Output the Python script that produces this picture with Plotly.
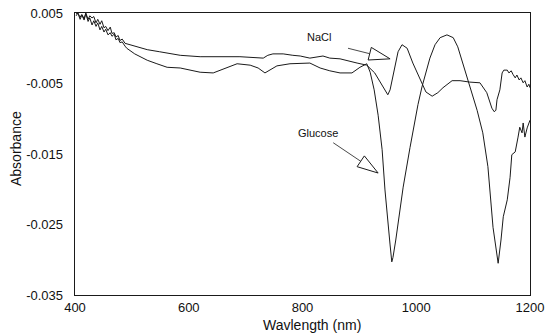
import plotly.graph_objects as go
import math

# ---------------- data ----------------
nacl_nm = [402, 405, 409, 412, 416, 419, 423, 426, 430, 433, 437, 440, 444, 447, 451, 454,
           458, 462, 465, 469, 472, 476, 479, 483, 488, 497, 509, 527, 549, 585, 620, 655,
           690, 731, 739, 748, 766, 783, 796, 813, 831, 836, 848, 866, 896, 913, 927, 942,
           950, 954, 963, 968, 975, 984, 994, 1007, 1017, 1028, 1038, 1047, 1063, 1077, 1094,
           1112, 1124, 1133, 1137, 1140, 1142, 1147, 1151, 1154, 1160, 1163, 1167, 1170, 1174,
           1177, 1181, 1184, 1188, 1191, 1195, 1198, 1200]
nacl_abs = [0.0049, 0.0050, 0.0044, 0.0048, 0.0042, 0.0050, 0.0041, 0.0046, 0.0043, 0.0045,
            0.0036, 0.0041, 0.0034, 0.0039, 0.0029, 0.0031, 0.0025, 0.0030, 0.0021, 0.0022,
            0.0016, 0.0018, 0.0011, 0.0013, 0.0007, 0.0005, 0.0002, -0.0002, -0.0005, -0.0010,
            -0.0012, -0.0012, -0.0012, -0.0014, -0.0010, -0.0008, -0.0008, -0.0010, -0.0011,
            -0.0014, -0.0012, -0.0011, -0.0014, -0.0015, -0.0021, -0.0024, -0.0035, -0.0055,
            -0.0066, -0.0059, -0.0021, -0.0005, 0.0005, 0.0000, -0.0021, -0.0045, -0.0062,
            -0.0068, -0.0063, -0.0056, -0.0046, -0.0046, -0.0048, -0.0049, -0.0063, -0.0085,
            -0.0090, -0.0088, -0.0073, -0.0059, -0.0035, -0.0031, -0.0031, -0.0035, -0.0032,
            -0.0037, -0.0042, -0.0038, -0.0045, -0.0042, -0.0049, -0.0046, -0.0055, -0.0051,
            -0.0056]

glucose_nm = [402, 405, 409, 412, 416, 419, 423, 426, 430, 433, 437, 440, 444, 447, 451, 454,
              458, 462, 465, 469, 472, 476, 479, 483, 488, 491, 505, 527, 544, 562, 585, 620,
              643, 664, 685, 708, 722, 734, 743, 755, 778, 796, 813, 831, 848, 866, 887, 901,
              913, 919, 926, 933, 940, 945, 950, 954, 957, 959, 964, 971, 977, 989, 996, 1003,
              1010, 1024, 1033, 1042, 1054, 1065, 1073, 1080, 1094, 1107, 1117, 1126, 1135,
              1144, 1149, 1153, 1160, 1165, 1168, 1174, 1179, 1182, 1186, 1188, 1191, 1195, 1200]
glucose_abs = [0.0046, 0.0050, 0.0041, 0.0047, 0.0040, 0.0049, 0.0038, 0.0043, 0.0033, 0.0039,
               0.0031, 0.0036, 0.0026, 0.0031, 0.0023, 0.0027, 0.0019, 0.0022, 0.0017, 0.0020,
               0.0012, 0.0014, 0.0008, 0.0009, 0.0003, 0.0000, -0.0008, -0.0017, -0.0022,
               -0.0027, -0.0028, -0.0034, -0.0035, -0.0028, -0.0022, -0.0024, -0.0028, -0.0035,
               -0.0031, -0.0025, -0.0022, -0.0022, -0.0021, -0.0028, -0.0032, -0.0035, -0.0035,
               -0.0027, -0.0022, -0.0034, -0.0059, -0.0095, -0.0144, -0.0201, -0.0251, -0.0279,
               -0.0303, -0.0297, -0.0272, -0.0229, -0.0197, -0.0141, -0.0109, -0.0080, -0.0055,
               -0.0014, 0.0005, 0.0015, 0.0019, 0.0015, 0.0002, -0.0017, -0.0055, -0.0088,
               -0.0120, -0.0168, -0.0254, -0.0305, -0.0272, -0.0239, -0.0215, -0.0183, -0.0151,
               -0.0147, -0.0126, -0.0112, -0.0120, -0.0106, -0.0126, -0.0113, -0.0102]

x_ticks = [400, 600, 800, 1000, 1200]
x_ticktext = ["400", "600", "800", "1000", "1200"]
y_ticks = [0.005, -0.005, -0.015, -0.025, -0.035]
y_ticktext = ["0.005", "-0.005", "-0.015", "-0.025", "-0.035"]

# annotation labels: (text, label position, arrow tail, arrow tip) in data units
labels = [
    ("NaCl", (829, 0.0016), (880, 0.0000), (954, -0.0015)),
    ("Glucose", (827, -0.0120), (854, -0.0134), (933, -0.0177)),
]

# ---------------- figure ----------------
W, H = 546, 335
ML, MR, MT, MB = 75, 16, 13, 40
XR = [400, 1200]
YR = [-0.035, 0.005]
PW, PH = W - ML - MR, H - MT - MB
px_x = PW / (XR[1] - XR[0])
px_y = PH / (YR[1] - YR[0])

FONT = "Liberation Sans, Arial, sans-serif"
LINE = "#1a1a1a"

fig = go.Figure()
fig.add_trace(go.Scatter(x=glucose_nm, y=glucose_abs, mode="lines", name="Glucose",
                         line=dict(color=LINE, width=1), showlegend=False, hoverinfo="skip"))
fig.add_trace(go.Scatter(x=nacl_nm, y=nacl_abs, mode="lines", name="NaCl",
                         line=dict(color=LINE, width=1), showlegend=False, hoverinfo="skip"))

shapes = []
annotations = []
for text, lab, tail, tip in labels:
    dx = (tip[0] - tail[0]) * px_x
    dy = (tip[1] - tail[1]) * px_y
    L = math.hypot(dx, dy)
    ux, uy = dx / L, dy / L
    head_len, head_half = 21, 6.5
    bx = tip[0] - ux * head_len / px_x
    by = tip[1] - uy * head_len / px_y
    pxv, pyv = -uy, ux
    c1 = (bx + pxv * head_half / px_x, by + pyv * head_half / px_y)
    c2 = (bx - pxv * head_half / px_x, by - pyv * head_half / px_y)
    shapes.append(dict(type="line", xref="x", yref="y", x0=tail[0], y0=tail[1], x1=bx, y1=by,
                       line=dict(color=LINE, width=0.8)))
    path = f"M {tip[0]},{tip[1]} L {c1[0]},{c1[1]} L {c2[0]},{c2[1]} Z"
    shapes.append(dict(type="path", xref="x", yref="y", path=path, fillcolor="white",
                       line=dict(color=LINE, width=1)))
    annotations.append(dict(x=lab[0], y=lab[1], xref="x", yref="y", text=text, showarrow=False,
                            xanchor="center", yanchor="middle",
                            font=dict(family=FONT, size=11, color="#111")))

# axis titles (centre positions in pixels converted to paper units)
annotations.append(dict(x=(312 - ML) / PW, y=(H - MB - 325) / PH, xref="paper", yref="paper",
                        text="Wavlength (nm)", showarrow=False, xanchor="center",
                        yanchor="middle", font=dict(family=FONT, size=14, color="#111")))
annotations.append(dict(x=(16 - ML) / PW, y=(H - MB - 148) / PH, xref="paper", yref="paper",
                        text="Absorbance", textangle=-90, showarrow=False, xanchor="center",
                        yanchor="middle", font=dict(family=FONT, size=14, color="#111")))

fig.update_layout(
    template="none",
    width=W, height=H, autosize=False,
    margin=dict(l=ML, r=MR, t=MT, b=MB, pad=0, autoexpand=False),
    paper_bgcolor="white", plot_bgcolor="white",
    shapes=shapes, annotations=annotations,
    font=dict(family=FONT, size=13, color="#111"),
    hovermode=False, showlegend=False,
)
fig.update_xaxes(range=XR, tickvals=x_ticks, ticktext=x_ticktext, showgrid=False,
                 zeroline=False, showline=True, linecolor=LINE, linewidth=1.2, mirror=True,
                 automargin=False, ticks="", ticklabelstandoff=0,
                 tickfont=dict(family=FONT, size=13, color="#111"))
fig.update_yaxes(range=YR, tickvals=y_ticks, ticktext=y_ticktext, showgrid=False,
                 zeroline=False, showline=True, linecolor=LINE, linewidth=1.4, mirror=True,
                 automargin=False, ticks="", ticklabelstandoff=8,
                 tickfont=dict(family=FONT, size=13, color="#111"))

fig.write_html("out.html", config={"displayModeBar": False, "staticPlot": True},
               post_script="document.body.style.margin='0';document.body.style.overflow='hidden';")
